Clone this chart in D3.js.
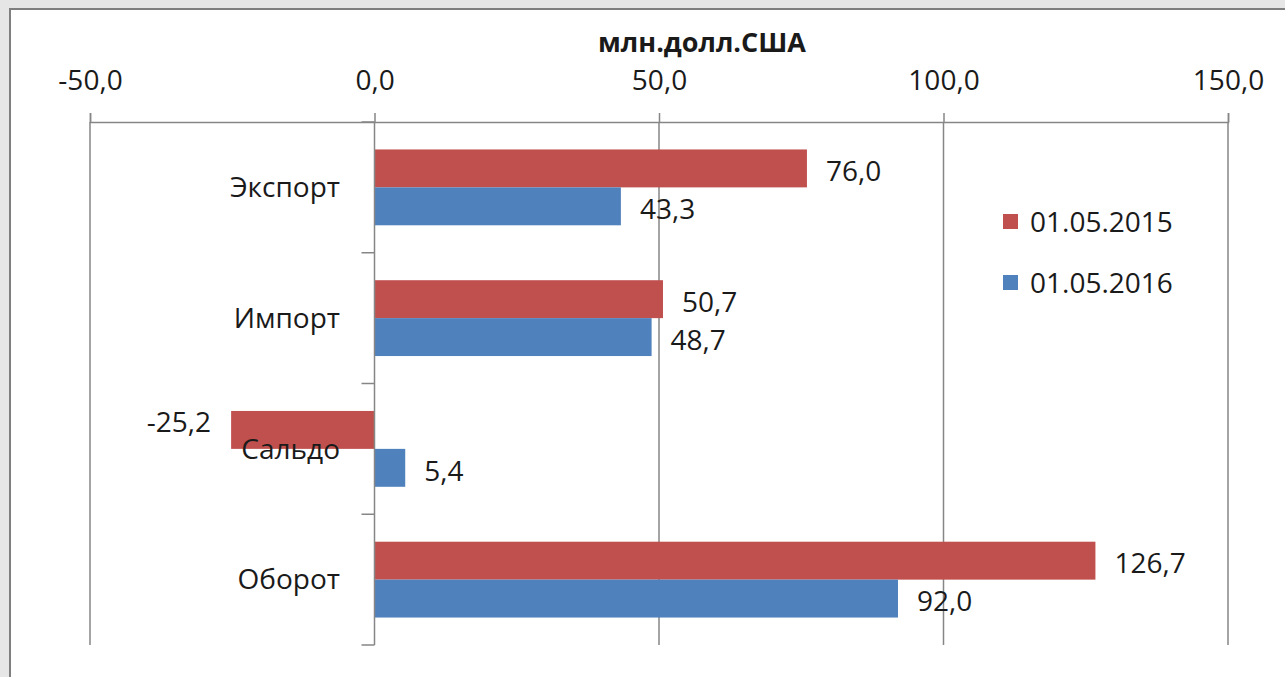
<!DOCTYPE html>
<html>
<head>
<meta charset="utf-8">
<script src="https://cdn.jsdelivr.net/npm/d3@7"></script>
<style>
    body { margin: 0; background: #e6e6e6; }
    text { font-family: "Open Sans", sans-serif; fill: #1a1a1a; }
</style>
</head>
<body>
<div id="chart"></div>
<script>
// valeurs
var categories = ["Экспорт", "Импорт", "Сальдо", "Оборот"];
var series = ["01.05.2015", "01.05.2016"];
var values2015 = [76.0, 50.7, -25.2, 126.7];
var values2016 = [43.3, 48.7, 5.4, 92.0];
var xTicks = [-50, 0, 50, 100, 150];
var couleurs = ["#c0504d", "#4f81bd"];
var titre = "млн.долл.США";

var width = 1285, height = 677;

var svg = d3.select("#chart").append("svg")
    .attr("width", width)
    .attr("height", height);

// cadre blanc
svg.append("rect")
    .attr("x", 10)
    .attr("y", 9)
    .attr("width", width)
    .attr("height", height)
    .style("fill", "#fff")
    .style("stroke", "#7f7f7f")
    .style("stroke-width", 2);

var locale = d3.formatLocale({decimal: ",", thousands: " ", grouping: [3], currency: ["", ""], minus: "-"});
var fmt = locale.format(".1f");

var x = d3.scaleLinear().domain([-50, 150]).range([90, 1228]);
var y = d3.scaleBand().domain(categories).range([122, 645]).paddingInner(0.42).paddingOuter(0.21);
var y1 = d3.scaleBand().domain(series).range([0, y.bandwidth()]);

// grille verticale
svg.selectAll(".grid").data(xTicks.filter(function(d) { return d != 0; }))
    .enter().append("line")
    .attr("x1", function(d) { return x(d); })
    .attr("x2", function(d) { return x(d); })
    .attr("y1", 122)
    .attr("y2", 645)
    .style("stroke", "#868686")
    .style("stroke-width", 1.5);

// axe du haut
var axeX = svg.append("g")
    .attr("transform", "translate(0,122)")
    .call(d3.axisTop(x).tickValues(xTicks).tickFormat(fmt).tickSizeOuter(0).tickSize(9).tickPadding(23));
axeX.select(".domain").style("stroke", "#868686").style("stroke-width", 1.5);
axeX.selectAll("line").style("stroke", "#868686").style("stroke-width", 1.5);
axeX.selectAll("text")
    .style("font-size", "28px")
    .style("font-family", "'Open Sans', sans-serif")
    .style("fill", "#1a1a1a");

// titre
svg.append("text")
    .attr("x", 702)
    .attr("y", 52)
    .attr("text-anchor", "middle")
    .style("font-size", "27px")
    .style("font-weight", "bold")
    .text(titre);

var data = categories.map(function(c, i) {
    return {cat: c, vals: [values2015[i], values2016[i]]};
});

var groupes = svg.selectAll(".groupe").data(data)
    .enter().append("g")
    .attr("transform", function(d) { return "translate(0," + y(d.cat) + ")"; });

// libellés des catégories (sous les barres)
svg.selectAll(".cat").data(categories)
    .enter().append("text")
    .attr("x", 340)
    .attr("y", function(d) { return y(d) + y.bandwidth() / 2; })
    .attr("dy", "0.35em")
    .attr("text-anchor", "end")
    .style("font-size", "28px")
    .text(function(d) { return d; });

groupes.selectAll("rect").data(function(d) { return d.vals; })
    .enter().append("rect")
    .attr("x", function(v) { return x(Math.min(0, v)); })
    .attr("y", function(v, j) { return y1(series[j]); })
    .attr("width", function(v) { return Math.abs(x(v) - x(0)); })
    .attr("height", y1.bandwidth())
    .style("fill", function(v, j) { return couleurs[j]; });

groupes.selectAll(".val").data(function(d) { return d.vals; })
    .enter().append("text")
    .attr("x", function(v) { return v < 0 ? x(v) - 20 : x(v) + 19; })
    .attr("y", function(v, j) { return y1(series[j]) + y1.bandwidth() / 2 + (v < 0 ? -8 : 3); })
    .attr("dy", "0.35em")
    .attr("text-anchor", function(v) { return v < 0 ? "end" : "start"; })
    .style("font-size", "28px")
    .text(function(v) { return fmt(v); });

// axe des catégories
var axeY = svg.append("g");
axeY.append("line")
    .attr("x1", x(0)).attr("x2", x(0))
    .attr("y1", 122).attr("y2", 645)
    .style("stroke", "#868686")
    .style("stroke-width", 1.5);
var bornes = d3.range(categories.length + 1).map(function(i) { return 122 + i * y.step(); });
axeY.selectAll(".tick").data(bornes)
    .enter().append("line")
    .attr("x1", x(0) - 13).attr("x2", x(0))
    .attr("y1", function(d) { return d; })
    .attr("y2", function(d) { return d; })
    .style("stroke", "#868686")
    .style("stroke-width", 1.5);

// légende
var legende = svg.selectAll(".leg").data(series)
    .enter().append("g")
    .attr("transform", function(d, i) { return "translate(1003," + (214 + i * 61) + ")"; });
legende.append("rect")
    .attr("width", 15)
    .attr("height", 15)
    .style("fill", function(d, i) { return couleurs[i]; });
legende.append("text")
    .attr("x", 27)
    .attr("y", 8)
    .attr("dy", "0.35em")
    .style("font-size", "28px")
    .text(function(d) { return d; });
</script>
</body>
</html>
